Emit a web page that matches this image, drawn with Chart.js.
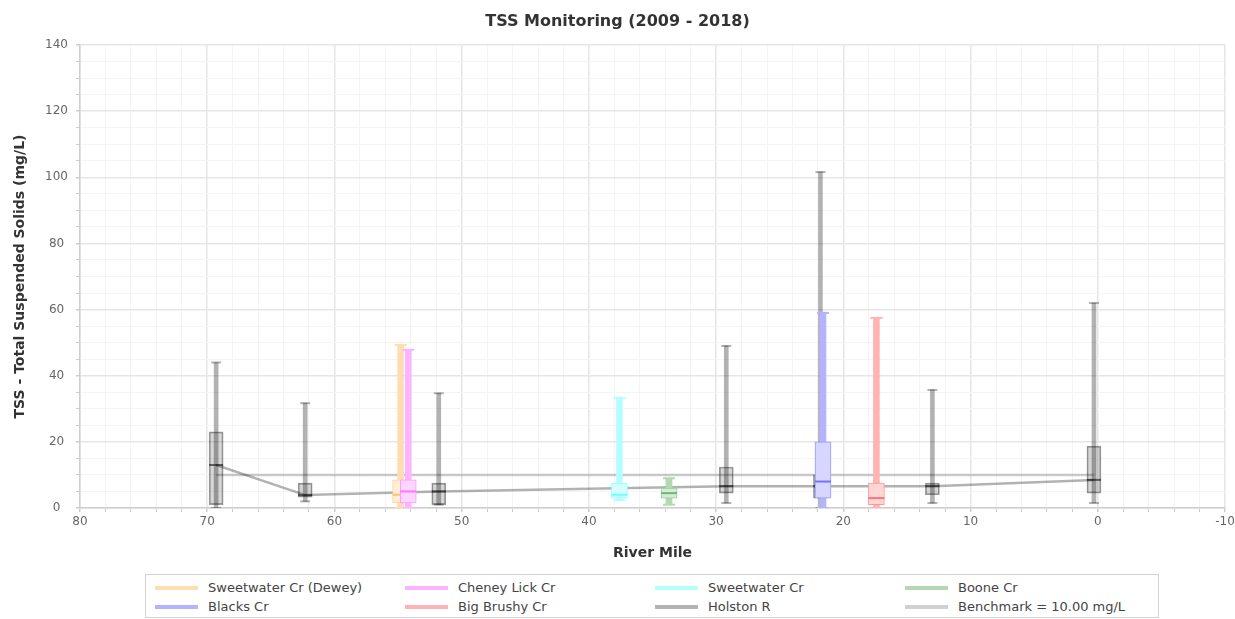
<!DOCTYPE html>
<html>
<head>
<meta charset="utf-8">
<title>TSS Monitoring</title>
<script src="https://cdn.jsdelivr.net/npm/chart.js@4.4.1/dist/chart.umd.min.js"></script>
<style>
  html, body { margin: 0; padding: 0; background: #fff; }
  body { width: 1235px; height: 619px; position: relative; overflow: hidden; font-family: "DejaVu Sans", sans-serif; }
  #chart { position: absolute; left: 0; top: 0; }
  #legend {
    position: absolute; left: 145px; top: 574px; width: 1014px; height: 44px;
    box-sizing: border-box; border: 1px solid #d4d4d4;
    display: grid; grid-template-columns: repeat(4, 250px); grid-auto-rows: 19px;
    padding: 3px 0 0 9px;
  }
  .legend-item { display: flex; align-items: center; font-size: 13px; color: #444; white-space: nowrap; }
  .legend-line { width: 43px; height: 4px; margin-right: 10px; flex: none; }
</style>
</head>
<body>
<canvas id="chart" width="1235" height="570"></canvas>
<div id="legend"></div>
<script>
const FONT = "DejaVu Sans";

const chartTitle = "TSS Monitoring (2009 - 2018)";
const xTitle = "River Mile";
const yTitle = "TSS - Total Suspended Solids (mg/L)";

// main stem sites (river mile, min, q1, median, q3, max)
const mainName = "Holston R";
const mainColor = [0, 0, 0];
const mainMile = [69.3, 62.3, 51.8, 29.2, 21.8, 13.0, 0.3];
const mainMin = [0, 2, 1, 1.5, 0, 1.5, 1.5];
const mainQ1 = [1, 3.3, 1, 4.5, 3, 4, 4.5];
const mainMed = [13, 3.9, 5, 6.6, 6.6, 6.6, 8.5];
const mainQ3 = [23, 7.5, 7.5, 12.4, 10, 7.5, 18.7];
const mainMax = [44, 31.7, 34.7, 49, 101.6, 35.7, 62];

// tributaries, one site each
const tribNames = ["Sweetwater Cr (Dewey)", "Cheney Lick Cr", "Sweetwater Cr", "Boone Cr", "Blacks Cr", "Big Brushy Cr"];
const tribColors = [[255, 140, 0], [255, 0, 255], [0, 255, 255], [0, 128, 0], [0, 0, 255], [255, 0, 0]];
const tribMile = [54.8, 54.2, 37.6, 33.7, 21.6, 17.4];
const tribMin = [0, 0, 2.4, 1, 0, 0];
const tribQ1 = [1.5, 1.5, 3, 3, 3, 1];
const tribMed = [4, 5, 4, 4.5, 8, 3];
const tribQ3 = [8.5, 8.5, 7.5, 6, 20, 7.5];
const tribMax = [49.3, 47.8, 33.3, 9, 59, 57.5];

const benchName = "Benchmark = 10.00 mg/L";
const benchValue = 10;

// colour at strength a, mixed onto white so overlapping marks stay light
function tint(c, a) {
  const m = c.map((v) => Math.round(v * a + 255 * (1 - a)));
  return `rgb(${m[0]},${m[1]},${m[2]})`;
}
function rgba(c, a) {
  return `rgba(${c[0]},${c[1]},${c[2]},${a})`;
}

// lower order is drawn on top, so count down
let drawSeq = 0;
function nextOrder() {
  drawSeq += 1;
  return 1000 - drawSeq;
}

function boxSets(miles, mins, q1s, meds, q3s, maxs, paint, whiskerW, boxW) {
  const sets = [];
  sets.push({
    type: "bar", order: nextOrder(), grouped: false,
    data: miles.map((m, i) => ({ x: m, y: [mins[i], maxs[i]] })),
    backgroundColor: paint(0.3), borderWidth: 0, barThickness: whiskerW
  });
  sets.push({
    type: "bar", order: nextOrder(), grouped: false,
    data: miles.map((m, i) => ({ x: m, y: [q1s[i], q3s[i]] })),
    backgroundColor: paint(0.16), borderColor: paint(0.4),
    borderWidth: 1, borderSkipped: false, barThickness: boxW
  });
  sets.push({
    type: "scatter", order: nextOrder(), showLine: false,
    data: miles.flatMap((m, i) => [{ x: m, y: maxs[i] }, { x: m, y: mins[i] }]),
    pointStyle: "line", pointRadius: boxW / 2 - 2, pointBorderWidth: 2,
    pointBorderColor: paint(0.3), pointBackgroundColor: paint(0.3)
  });
  sets.push({
    type: "scatter", order: nextOrder(), showLine: false,
    data: miles.map((m, i) => ({ x: m, y: meds[i] })),
    pointStyle: "line", pointRadius: boxW / 2, pointBorderWidth: 2,
    pointBorderColor: paint(0.55), pointBackgroundColor: paint(0.55)
  });
  return sets;
}

const datasets = [];
datasets.push({
  type: "line", order: nextOrder(), fill: false, pointRadius: 0,
  data: [{ x: mainMile[0], y: benchValue }, { x: mainMile[mainMile.length - 1], y: benchValue }],
  borderColor: rgba(mainColor, 0.2), borderWidth: 2.5
});
datasets.push({
  type: "line", order: nextOrder(), fill: false, pointRadius: 0,
  data: mainMile.map((m, i) => ({ x: m, y: mainMed[i] })),
  borderColor: rgba(mainColor, 0.3), borderWidth: 2.5
});
datasets.push(...boxSets(mainMile, mainMin, mainQ1, mainMed, mainQ3, mainMax, (a) => rgba(mainColor, a), 4, 14));
tribNames.forEach((name, i) => {
  datasets.push(...boxSets([tribMile[i]], [tribMin[i]], [tribQ1[i]], [tribMed[i]], [tribQ3[i]], [tribMax[i]],
    (a) => tint(tribColors[i], a), 6, 16));
});

const majorX = (v) => v % 10 === 0;
const majorY = (v) => v % 20 === 0;

new Chart(document.getElementById("chart"), {
  type: "bar",
  data: { datasets },
  options: {
    responsive: false,
    animation: false,
    events: [],
    layout: { padding: 0 },
    plugins: {
      legend: { display: false },
      tooltip: { enabled: false },
      title: {
        display: true, text: chartTitle, color: "#333",
        font: { family: FONT, size: 16, weight: "bold" },
        padding: { top: 12, bottom: 13.8 }
      }
    },
    scales: {
      x: {
        type: "linear", reverse: true, min: -10, max: 80, offset: false,
        ticks: {
          stepSize: 2, autoSkip: false, maxRotation: 0, minRotation: 0, padding: 3,
          color: "#666", font: { family: FONT, size: 12 },
          callback: (v) => (majorX(v) ? String(v) : "")
        },
        grid: {
          offset: false, tickLength: 4,
          color: (c) => (c.tick && majorX(c.tick.value) ? "#e6e6e6" : "#f4f4f4"),
          lineWidth: (c) => (c.tick && majorX(c.tick.value) ? 1.5 : 1),
          tickColor: "#cccccc"
        },
        border: { color: "#cfcfcf", width: 1.5 },
        title: {
          display: true, text: xTitle, color: "#333",
          font: { family: FONT, size: 14, weight: "bold" },
          padding: { top: 4, bottom: 8.6 }
        },
        afterFit: (s) => { s.height = 62; s.paddingLeft = 0; s.paddingRight = 7; }
      },
      y: {
        type: "linear", min: 0, max: 140,
        ticks: {
          stepSize: 5, autoSkip: false, padding: 8, crossAlign: "center",
          color: "#666", font: { family: FONT, size: 12 },
          callback: (v) => (majorY(v) ? String(v) : "")
        },
        grid: {
          tickLength: 4,
          color: (c) => (c.tick && majorY(c.tick.value) ? "#e6e6e6" : "#f4f4f4"),
          lineWidth: (c) => (c.tick && majorY(c.tick.value) ? 1.5 : 1),
          tickColor: "#cccccc"
        },
        border: { color: "#cfcfcf", width: 1.5 },
        title: {
          display: true, text: yTitle, color: "#333",
          font: { family: FONT, size: 14, weight: "bold" },
          padding: { top: 11.6, bottom: 4 }
        },
        afterFit: (s) => { s.width = 80; s.paddingTop = 0; s.paddingBottom = 0; }
      }
    }
  }
});

// legend: 4 columns, filled row by row
const legendEl = document.getElementById("legend");
const legendItems = [
  [tribNames[0], tint(tribColors[0], 0.3)],
  [tribNames[1], tint(tribColors[1], 0.3)],
  [tribNames[2], tint(tribColors[2], 0.3)],
  [tribNames[3], tint(tribColors[3], 0.3)],
  [tribNames[4], tint(tribColors[4], 0.3)],
  [tribNames[5], tint(tribColors[5], 0.3)],
  [mainName, tint(mainColor, 0.3)],
  [benchName, tint(mainColor, 0.18)]
];
legendItems.forEach(([name, color]) => {
  const item = document.createElement("div");
  item.className = "legend-item";
  item.innerHTML = `<span class="legend-line" style="background:${color};"></span><span>${name}</span>`;
  legendEl.appendChild(item);
});
</script>
</body>
</html>
